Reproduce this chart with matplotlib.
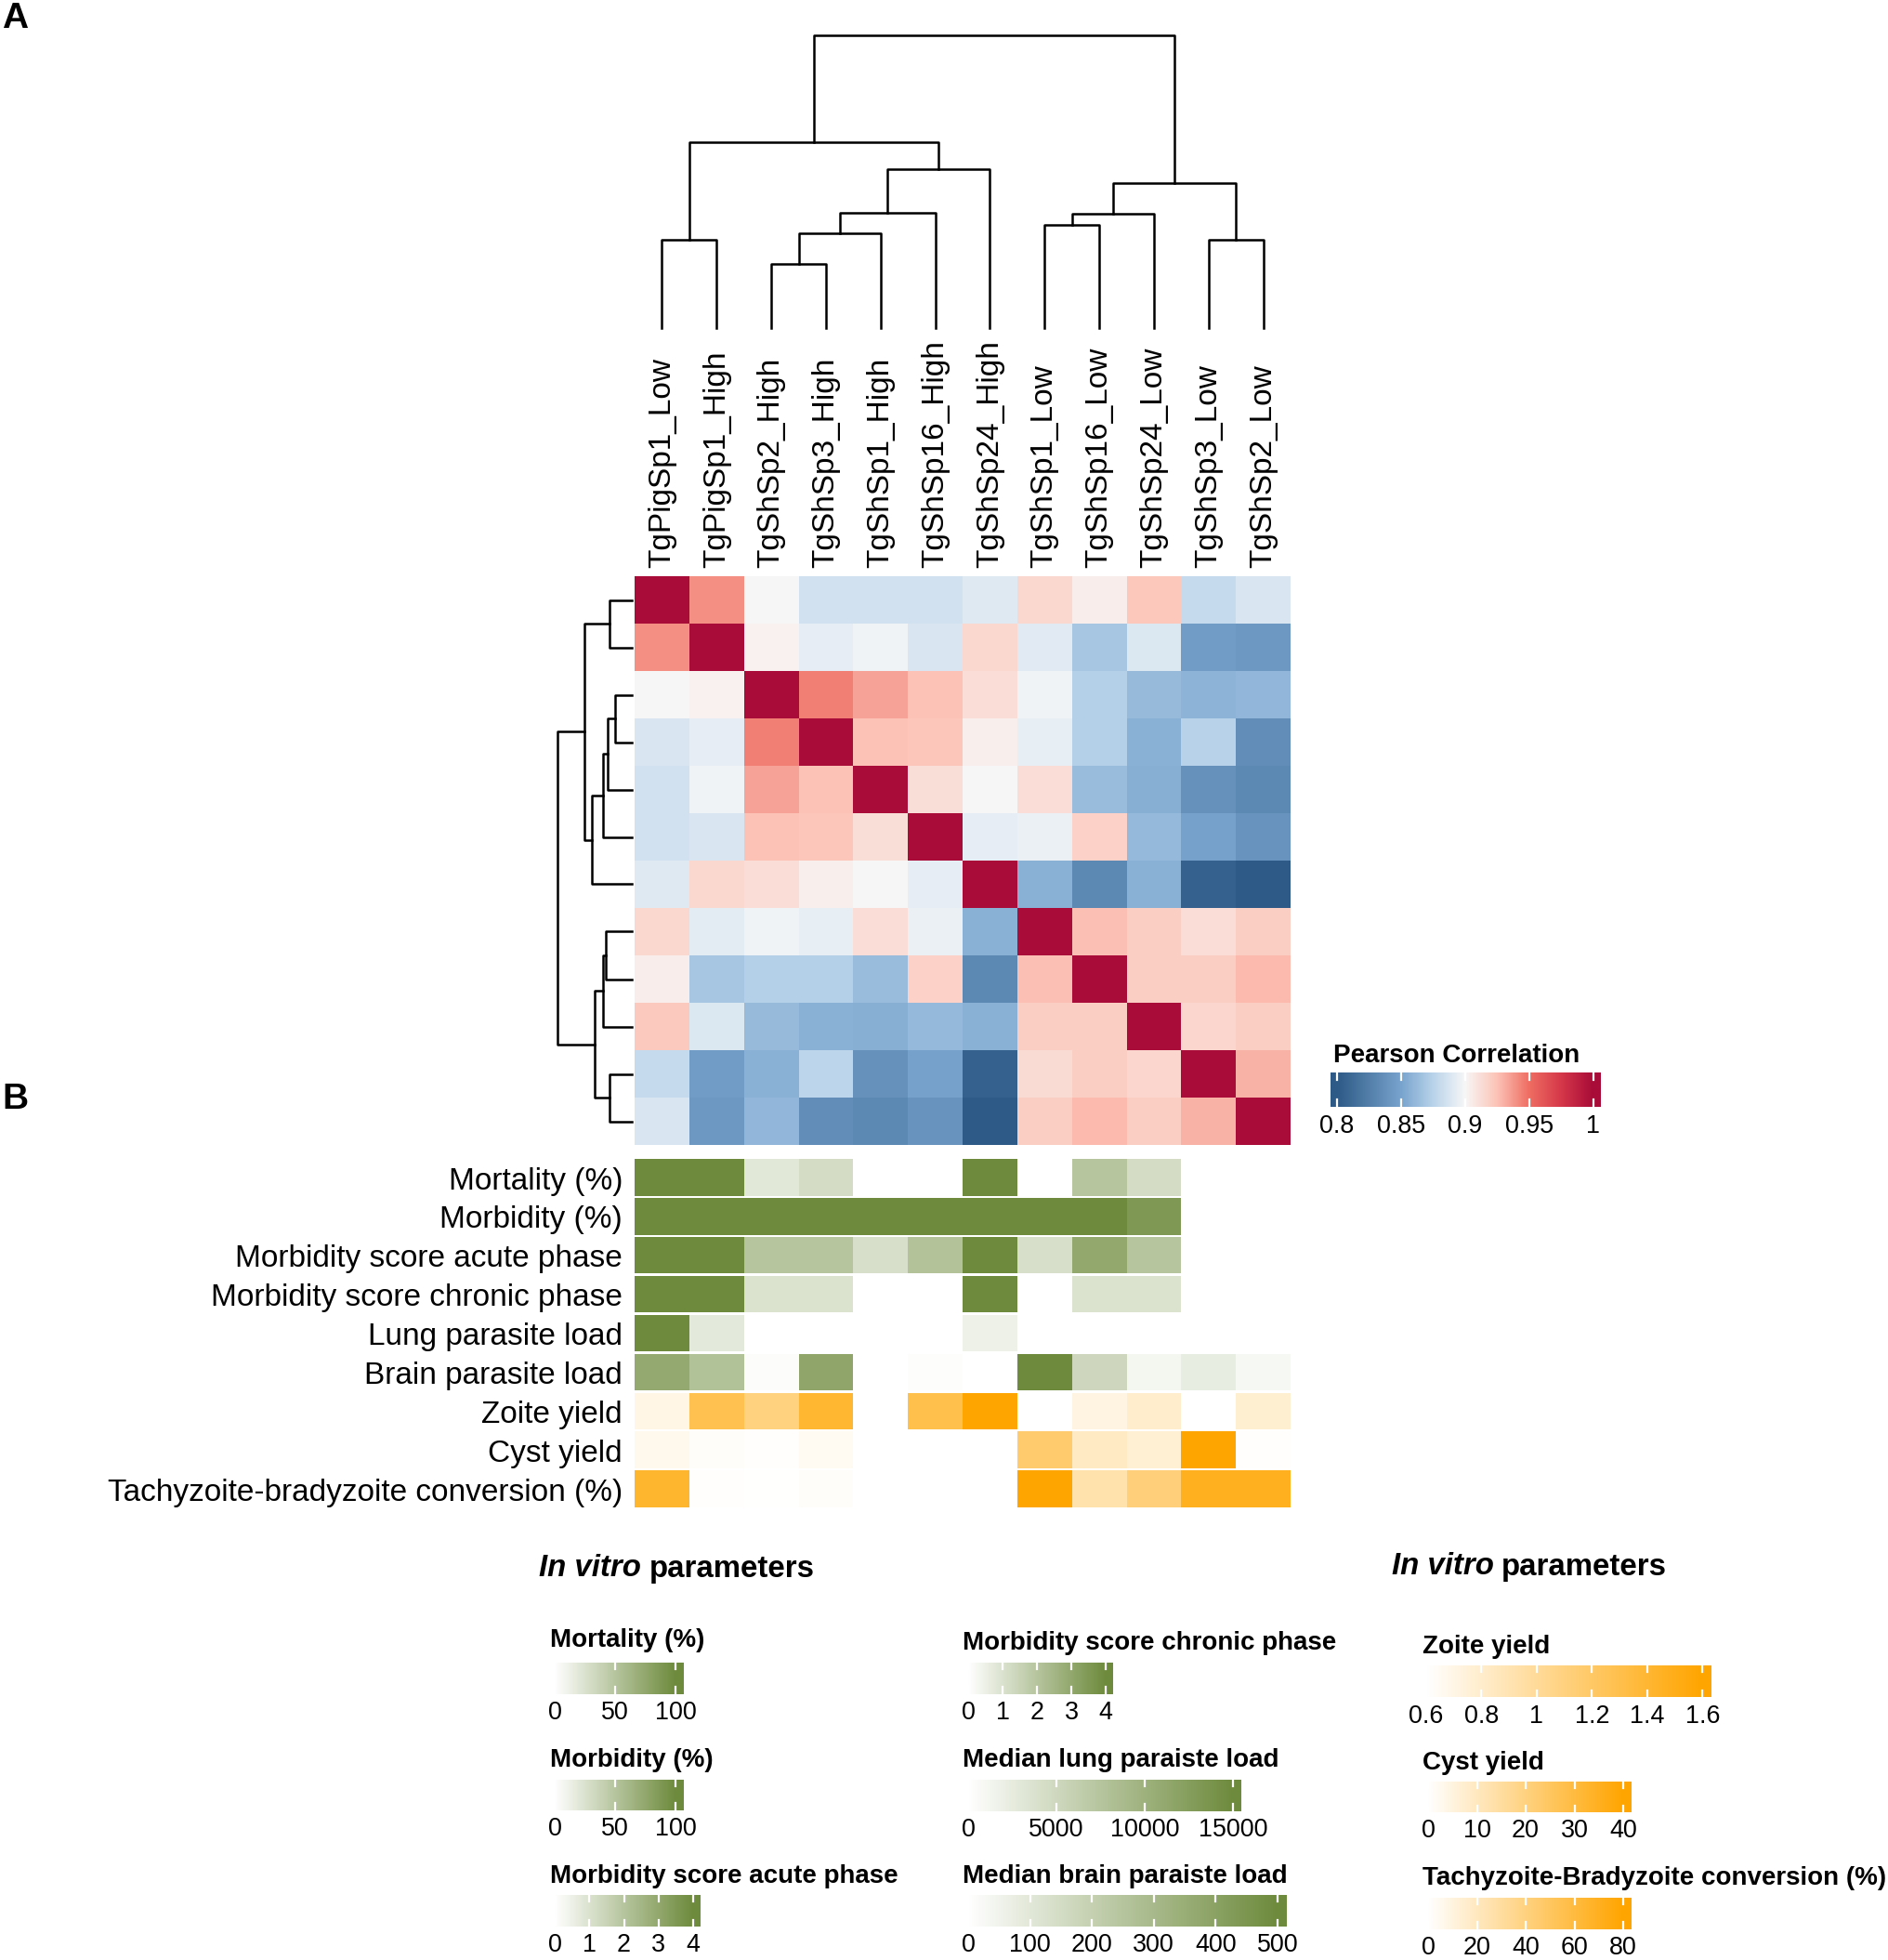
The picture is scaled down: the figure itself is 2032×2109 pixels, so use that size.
import numpy as np
import matplotlib
matplotlib.use('Agg')
import matplotlib.pyplot as plt
from matplotlib.colors import LinearSegmentedColormap, Normalize

plt.rcParams['font.family'] = ['Liberation Sans', 'DejaVu Sans']

nan = np.nan

# ---- data ----
samples = ['TgPigSp1_Low', 'TgPigSp1_High', 'TgShSp2_High', 'TgShSp3_High',
           'TgShSp1_High', 'TgShSp16_High', 'TgShSp24_High', 'TgShSp1_Low',
           'TgShSp16_Low', 'TgShSp24_Low', 'TgShSp3_Low', 'TgShSp2_Low']

corr = [
    [1.000, 0.940, 0.900, 0.885, 0.885, 0.885, 0.890, 0.915, 0.905, 0.923, 0.880, 0.888],
    [0.940, 1.000, 0.903, 0.893, 0.897, 0.888, 0.915, 0.891, 0.868, 0.889, 0.845, 0.842],
    [0.900, 0.903, 1.000, 0.945, 0.935, 0.925, 0.913, 0.897, 0.873, 0.862, 0.858, 0.860],
    [0.888, 0.893, 0.945, 1.000, 0.925, 0.924, 0.904, 0.894, 0.873, 0.857, 0.875, 0.835],
    [0.885, 0.897, 0.935, 0.925, 1.000, 0.912, 0.900, 0.913, 0.863, 0.856, 0.837, 0.832],
    [0.885, 0.888, 0.925, 0.924, 0.912, 1.000, 0.893, 0.895, 0.918, 0.861, 0.848, 0.839],
    [0.890, 0.915, 0.913, 0.904, 0.900, 0.893, 1.000, 0.857, 0.832, 0.857, 0.805, 0.800],
    [0.915, 0.892, 0.897, 0.894, 0.913, 0.895, 0.857, 1.000, 0.926, 0.920, 0.913, 0.920],
    [0.905, 0.868, 0.873, 0.873, 0.863, 0.918, 0.832, 0.926, 1.000, 0.920, 0.920, 0.928],
    [0.922, 0.889, 0.862, 0.857, 0.856, 0.861, 0.857, 0.920, 0.920, 1.000, 0.916, 0.920],
    [0.880, 0.845, 0.857, 0.876, 0.837, 0.848, 0.805, 0.914, 0.920, 0.916, 1.000, 0.930],
    [0.888, 0.842, 0.860, 0.835, 0.832, 0.839, 0.800, 0.920, 0.928, 0.920, 0.930, 1.000],
]

# hierarchical clustering (ids >= 12 are earlier merges), heights relative to root
merge_left = [0, 2, 13, 14, 15, 12, 7, 18, 10, 19, 17]
merge_right = [1, 3, 4, 5, 6, 16, 8, 9, 11, 20, 21]
merge_height = [0.30, 0.22, 0.325, 0.393, 0.542, 0.635, 0.353, 0.39, 0.30, 0.495, 1.0]

ann_labels = ['Mortality (%)', 'Morbidity (%)', 'Morbidity score acute phase',
              'Morbidity score chronic phase', 'Lung parasite load', 'Brain parasite load',
              'Zoite yield', 'Cyst yield', 'Tachyzoite-bradyzoite conversion (%)']
mortality = [100, 100, 20, 30, 0, 0, 100, 0, 50, 30, nan, nan]
morbidity = [100, 100, 100, 100, 100, 100, 100, 100, 100, 88, nan, nan]
score_acute = [4, 4, 2, 2, 1.1, 2.1, 4, 1.1, 3, 2, nan, nan]
score_chronic = [4, 4, 1, 1, 0, 0, 4, 0, 1, 1, nan, nan]
lung_load = [15000, 2800, 0, 0, 0, 0, 1800, 0, 0, 0, nan, nan]
brain_load = [370, 265, 10, 385, 3, 8, 0, 500, 170, 40, 80, 30]
zoite_yield = [0.7, 1.29, 1.1, 1.41, nan, 1.3, 1.6, nan, 0.72, 0.8, nan, 0.78]
cyst_yield = [3, 1, 0.5, 2, nan, nan, nan, 23, 9.5, 7, 40, 0.5]
conversion = [65, 1, 0.5, 2, nan, nan, nan, 80, 26, 42, 70, 70]

ann_values = [mortality, morbidity, score_acute, score_chronic, lung_load,
              brain_load, zoite_yield, cyst_yield, conversion]
ann_range = [(0, 100), (0, 100), (0, 4), (0, 4), (0, 15000), (0, 500),
             (0.6, 1.6), (0, 40), (0, 80)]
ann_kind = ['g', 'g', 'g', 'g', 'g', 'g', 'o', 'o', 'o']

# ---- figure ----
W, H = 2032, 2109
fig = plt.figure(figsize=(W / 200, H / 200), dpi=200)


def px_axes(x0, y0, x1, y1):
    ax = fig.add_axes([x0 / W, 1 - y1 / H, (x1 - x0) / W, (y1 - y0) / H])
    ax.set_axis_off()
    return ax


# colour ramp for correlation, 0.8 .. 1.0
cmap_corr = LinearSegmentedColormap.from_list(
    'corr', [(0.0, '#2E5A87'), (0.25, '#78A4CE'), (0.375, '#B9D3EA'),
             (0.5, '#F7F7F7'), (0.625, '#FCC4B7'), (0.75, '#EF6E63'),
             (0.875, '#D6394A'), (1.0, '#A90C38')])
cmap_green = LinearSegmentedColormap.from_list('green', ['white', '#6E8B3D'])
cmap_orange = LinearSegmentedColormap.from_list('orange', ['white', '#FFA500'])
cmaps = {'g': cmap_green, 'o': cmap_orange}

# heatmap
ax_hm = px_axes(683, 620, 1389, 1232)
ax_hm.pcolormesh(np.arange(13), np.arange(13), np.array(corr), cmap=cmap_corr,
                 vmin=0.8, vmax=1.0)
ax_hm.set_xlim(0, 12)
ax_hm.set_ylim(12, 0)
for i, name in enumerate(samples):
    ax_hm.text(i + 0.5, -0.17, name, rotation=90, ha='center', va='bottom',
               fontsize=12, clip_on=False)

# dendrograms
pos = {i: i + 0.5 for i in range(12)}
hgt = {i: 0.0 for i in range(12)}
segs = []
for k, (a, b, h) in enumerate(zip(merge_left, merge_right, merge_height)):
    segs.append(([pos[a], pos[a], pos[b], pos[b]], [hgt[a], h, h, hgt[b]]))
    pos[12 + k] = (pos[a] + pos[b]) / 2
    hgt[12 + k] = h

ax_cd = px_axes(683, 38, 1389, 353)
ax_rd = px_axes(600, 620, 680, 1232)
for xs, hs in segs:
    ax_cd.plot(xs, hs, color='black', lw=0.9, clip_on=False, solid_capstyle='projecting')
    ax_rd.plot(hs, xs, color='black', lw=0.9, clip_on=False, solid_capstyle='projecting')
ax_cd.set_xlim(0, 12)
ax_cd.set_ylim(0, 1)
ax_rd.set_xlim(1, 0)
ax_rd.set_ylim(12, 0)

# annotation rows
ax_an = px_axes(683, 1246, 1389, 1623)
gap = 0.03
for r, (vals, (lo, hi), kind) in enumerate(zip(ann_values, ann_range, ann_kind)):
    data = np.ma.masked_invalid(np.array(vals, dtype=float))[None, :]
    ax_an.pcolormesh(np.arange(13), [r + gap, r + 1 - gap], data, cmap=cmaps[kind],
                     norm=Normalize(lo, hi))
    ax_an.text(-0.22, r + 0.8, ann_labels[r], ha='right', va='baseline', fontsize=12,
               clip_on=False)
ax_an.set_xlim(0, 12)
ax_an.set_ylim(9, 0)

# panel letters
fig.text(16 / W, 1 - 20 / H, 'A', fontsize=14, fontweight='bold', ha='center', va='center')
fig.text(16 / W, 1 - 1183 / H, 'B', fontsize=14, fontweight='bold', ha='center', va='center')


def gradient_legend(title, title_xy, box, cmap, lo, hi, bar_lo, bar_hi, ticks, labels):
    fig.text(title_xy[0] / W, 1 - (title_xy[1] + 3) / H, title, fontsize=10,
             fontweight='bold', ha='left', va='center')
    ax = fig.add_axes([box[0] / W, 1 - box[3] / H, (box[2] - box[0]) / W,
                       (box[3] - box[1]) / H])
    grad = np.linspace(bar_lo, bar_hi, 400)[None, :]
    ax.imshow(grad, cmap=cmap, norm=Normalize(lo, hi), aspect='auto',
              extent=[bar_lo, bar_hi, 0, 1], interpolation='bilinear')
    for t in ticks:
        ax.plot([t, t], [0.02, 0.22], color='white', lw=0.8)
        ax.plot([t, t], [0.78, 0.98], color='white', lw=0.8)
    ax.set_xlim(bar_lo, bar_hi)
    ax.set_ylim(0, 1)
    ax.set_yticks([])
    ax.set_xticks(ticks)
    ax.set_xticklabels(labels, fontsize=9.7)
    ax.tick_params(axis='x', length=0, pad=2.6)
    for s in ax.spines.values():
        s.set_visible(False)


gradient_legend('Pearson Correlation', (1435, 1133), (1432, 1154, 1723, 1191.5),
                cmap_corr, 0.8, 1.0, 0.795, 1.006,
                [0.8, 0.85, 0.9, 0.95, 1.0], ['0.8', '0.85', '0.9', '0.95', '1'])

gradient_legend('Mortality (%)', (591.6, 1762), (597, 1788.5, 736, 1823),
                cmap_green, 0, 100, 0, 107, [0, 50, 100], ['0', '50', '100'])
gradient_legend('Morbidity (%)', (591.6, 1891), (597, 1914.6, 736, 1947.6),
                cmap_green, 0, 100, 0, 107, [0, 50, 100], ['0', '50', '100'])
gradient_legend('Morbidity score acute phase', (591.6, 2016), (597, 2039, 754, 2073),
                cmap_green, 0, 4, 0, 4.21, [0, 1, 2, 3, 4], ['0', '1', '2', '3', '4'])
gradient_legend('Morbidity score chronic phase', (1036.5, 1765), (1042, 1788.5, 1198, 1823),
                cmap_green, 0, 4, 0, 4.21, [0, 1, 2, 3, 4], ['0', '1', '2', '3', '4'])
gradient_legend('Median lung paraiste load', (1036.5, 1891), (1042, 1914.6, 1336, 1948.6),
                cmap_green, 0, 15000, 0, 15447, [0, 5000, 10000, 15000],
                ['0', '5000', '10000', '15000'])
gradient_legend('Median brain paraiste load', (1036.5, 2016), (1042, 2039, 1385, 2073),
                cmap_green, 0, 500, 0, 515, [0, 100, 200, 300, 400, 500],
                ['0', '100', '200', '300', '400', '500'])
gradient_legend('Zoite yield', (1531, 1768.7), (1535, 1791.8, 1842, 1826.5),
                cmap_orange, 0.6, 1.6, 0.6, 1.633, [0.6, 0.8, 1.0, 1.2, 1.4, 1.6],
                ['0.6', '0.8', '1', '1.2', '1.4', '1.6'])
gradient_legend('Cyst yield', (1531, 1894), (1537, 1917, 1755.5, 1950),
                cmap_orange, 0, 40, 0, 41.6, [0, 10, 20, 30, 40],
                ['0', '10', '20', '30', '40'])
gradient_legend('Tachyzoite-Bradyzoite conversion (%)', (1531, 2018),
                (1537, 2042, 1755.5, 2075.6), cmap_orange, 0, 80, 0, 83.2,
                [0, 20, 40, 60, 80], ['0', '20', '40', '60', '80'])

# group titles: "In vitro" italic + "parameters"
renderer = fig.canvas.get_renderer()
for gx, gy in [(580, 1688), (1497.5, 1686)]:
    t1 = fig.text(gx / W, 1 - gy / H, 'In vitro', fontsize=11.9, fontweight='bold',
                  style='italic', ha='left', va='center')
    bb = t1.get_window_extent(renderer)
    fig.text((bb.x1 + 9) / W, 1 - gy / H, 'parameters', fontsize=11.9,
             fontweight='bold', ha='left', va='center')

fig.savefig('out.png', dpi=200)
